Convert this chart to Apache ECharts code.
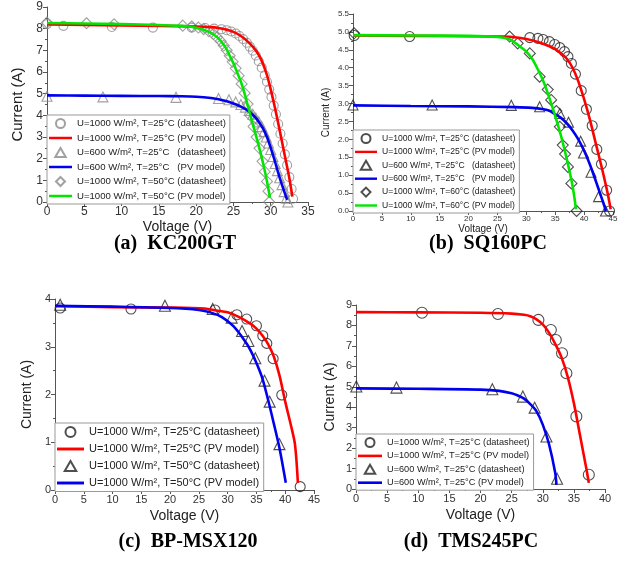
<!DOCTYPE html>
<html><head><meta charset="utf-8">
<script src="https://cdn.jsdelivr.net/npm/echarts@6/dist/echarts.min.js"></script>
<style>html,body{margin:0;padding:0;background:#fff}#c{width:643px;height:562px}</style>
</head><body><div id="c"></div>
<script>
// ---------- (a) KC200GT ----------
const kcDs1000T25 = [[0,8.21],[2.2,8.13],[8.7,8.08],[14.2,8.05],[19.4,8.05],[21.2,8.03],[22.4,8.0],[23.4,7.97],[24.1,7.93],[24.7,7.87],[25.3,7.78],[25.8,7.66],[26.3,7.52],[26.8,7.35],[27.2,7.17],[27.6,6.98],[28.0,6.76],[28.4,6.5],[28.8,6.2],[29.2,5.85],[29.5,5.55],[29.8,5.2],[30.1,4.85],[30.4,4.45],[30.7,4.05],[31.0,3.6],[31.3,3.15],[31.6,2.7],[31.9,2.2],[32.2,1.7],[32.5,1.15],[32.8,0.6],[33.0,0.15]];
const kcPv1000T25 = [[0,8.19],[5,8.17],[10,8.15],[15,8.13],[20,8.1],[22,8.07],[23,8.03],[24,7.96],[25,7.85],[26,7.66],[27,7.38],[28,7.0],[28.5,6.72],[29,6.35],[29.5,5.85],[30,5.2],[30.5,4.45],[31,3.65],[31.5,2.8],[32,1.95],[32.5,1.1],[32.9,0.25]];
const kcDs600T25 = [[0,4.88],[7.5,4.85],[17.3,4.83],[23.0,4.78],[24.4,4.72],[25.3,4.62],[26.0,4.5],[26.6,4.38],[27.1,4.22],[27.6,4.05],[28.0,3.88],[28.4,3.7],[28.8,3.48],[29.1,3.25],[29.4,3.0],[29.7,2.72],[30.0,2.42],[30.3,2.1],[30.6,1.78],[30.9,1.45],[31.2,1.12],[31.5,0.8],[31.8,0.48],[32.1,0.18],[32.3,0.0]];
const kcPv600T25 = [[0,4.92],[5,4.91],[10,4.9],[15,4.89],[18,4.88],[20,4.86],[22,4.8],[23,4.74],[24,4.66],[25,4.55],[26,4.4],[27,4.2],[27.5,4.05],[28,3.88],[28.5,3.65],[29,3.38],[29.5,3.0],[30,2.5],[30.5,1.95],[31,1.35],[31.5,0.8],[32,0.3],[32.2,0.1]];
const kcDs1000T50 = [[0,8.28],[5.3,8.25],[9,8.2],[18.2,8.14],[19.4,8.1],[20.3,8.05],[21.0,7.98],[21.7,7.88],[22.3,7.75],[22.8,7.6],[23.3,7.42],[23.7,7.22],[24.1,7.0],[24.5,6.75],[24.9,6.47],[25.3,6.17],[25.7,5.83],[26.1,5.45],[26.5,5.02],[26.9,4.52],[27.3,3.98],[27.7,3.48],[28.1,3.0],[28.5,2.48],[28.9,1.88],[29.2,1.4],[29.5,0.95],[29.7,0.5],[29.8,0.0]];
const kcPv1000T50 = [[0,8.26],[5,8.24],[10,8.21],[15,8.17],[18,8.13],[19,8.1],[20,8.04],[21,7.95],[22,7.8],[23,7.55],[24,7.1],[24.5,6.75],[25,6.4],[25.5,5.98],[26,5.55],[26.5,5.0],[27,4.35],[27.5,3.7],[28,3.1],[28.5,2.45],[29,1.75],[29.5,0.95],[29.9,0.2]];
const kcLegend = ['U=1000 W/m², T=25°C (datasheet)','U=1000 W/m², T=25°C (PV model)','U=600 W/m², T=25°C   (datasheet)','U=600 W/m², T=25°C   (PV model)','U=1000 W/m², T=50°C (datasheet)','U=1000 W/m², T=50°C (PV model)'];

// ---------- (b) SQ160PC ----------
const sqDs1000T25 = [[0.2,4.9],[9.8,4.87],[30.6,4.84],[32.0,4.82],[32.9,4.79],[34.0,4.73],[34.9,4.65],[35.8,4.56],[36.6,4.45],[37.2,4.31],[37.8,4.12],[38.5,3.82],[39.5,3.36],[40.4,2.84],[41.4,2.38],[42.2,1.72],[43.0,1.31],[43.9,0.58],[44.4,0.0]];
const sqPv1000T25 = [[0,4.9],[10,4.89],[20,4.88],[26,4.87],[28,4.85],[30,4.8],[32,4.72],[34,4.6],[35,4.52],[36,4.4],[37,4.25],[38,4.0],[39,3.62],[40,3.12],[41,2.55],[42,1.9],[43,1.25],[44,0.55],[44.6,0.05]];
const sqDs600T25 = [[0,2.96],[13.7,2.96],[27.4,2.95],[32.3,2.91],[35.8,2.72],[37.3,2.48],[39.4,1.95],[39.9,1.62],[41.2,1.08],[42.5,0.4],[43.7,0.0]];
const sqPv600T25 = [[0,2.95],[10,2.93],[20,2.92],[28,2.9],[31,2.88],[33,2.84],[34,2.8],[35,2.7],[36,2.6],[37,2.45],[38,2.25],[39,2.0],[40,1.68],[41,1.3],[42,0.85],[43,0.38],[43.8,0.0]];
const sqDs1000T60 = [[0.2,4.96],[27.1,4.87],[28.5,4.68],[30.6,4.4],[32.3,3.75],[33.7,3.39],[34.3,3.1],[35.2,2.79],[35.8,2.35],[36.3,1.84],[36.7,1.59],[37.2,1.23],[37.8,0.77],[38.7,0.0]];
const sqPv1000T60 = [[0,4.91],[10,4.9],[20,4.89],[25,4.86],[27,4.8],[28,4.7],[29,4.58],[30,4.45],[31,4.25],[32,3.95],[33,3.6],[34,3.15],[35,2.65],[36,2.1],[37,1.45],[38,0.7],[38.6,0.05]];
const sqLegend = ['U=1000 W/m², T=25°C (datasheet)','U=1000 W/m², T=25°C (PV model)','U=600 W/m², T=25°C   (datasheet)','U=600 W/m², T=25°C   (PV model)','U=1000 W/m², T=60°C (datasheet)','U=1000 W/m², T=60°C (PV model)'];

// ---------- (c) BP-MSX120 ----------
const bpDs1000T25 = [[0.9,3.81],[13.2,3.79],[27.8,3.77],[31.6,3.67],[33.3,3.58],[35.0,3.44],[36.1,3.23],[36.8,3.07],[37.9,2.75],[39.4,1.99],[42.6,0.07]];
const bpPv1000T25 = [[0,3.85],[10,3.83],[20,3.82],[26,3.8],[28,3.76],[30,3.72],[32,3.62],[34,3.48],[35,3.38],[36,3.24],[37,3.06],[38,2.8],[39,2.4],[40,1.85],[41,1.35],[41.7,0.95],[42.2,0.15]];
const bpDs1000T50 = [[0.9,3.88],[19.1,3.86],[27.4,3.79],[30.7,3.61],[32.5,3.33],[33.6,3.12],[34.8,2.76],[36.4,2.29],[37.3,1.85],[39.0,0.96]];
const bpPv1000T50 = [[0,3.86],[10,3.84],[20,3.81],[25,3.77],[27,3.72],[29,3.62],[31,3.43],[33,3.12],[34,2.92],[35,2.66],[36,2.35],[37,1.9],[38,1.4],[39,0.88],[40.1,0.15]];
const bpLegend = ['U=1000 W/m², T=25°C (datasheet)','U=1000 W/m², T=25°C (PV model)','U=1000 W/m², T=50°C (datasheet)','U=1000 W/m², T=50°C (PV model)'];

// ---------- (d) TMS245PC ----------
const tmsDs1000T25 = [[10.6,8.62],[22.8,8.56],[29.3,8.27],[31.3,7.78],[32.1,7.29],[33.1,6.64],[33.8,5.66],[35.4,3.55],[37.4,0.7]];
const tmsPv1000T25 = [[0,8.65],[10,8.64],[20,8.62],[25,8.58],[27,8.52],[28,8.45],[29,8.3],[30,8.05],[31,7.65],[32,7.1],[33,6.45],[34,5.5],[35,4.2],[36,2.6],[37,1.0],[37.4,0.3]];
const tmsDs600T25 = [[0.05,5.01],[6.5,4.96],[21.9,4.88],[26.8,4.52],[28.7,3.98],[30.6,2.57],[32.3,0.5]];
const tmsPv600T25 = [[0,4.92],[10,4.9],[20,4.86],[23,4.8],[25,4.68],[26,4.57],[27,4.42],[28,4.15],[29,3.8],[30,3.15],[31,2.2],[32,0.8],[32.2,0.2]];
const tmsLegend = ['U=1000 W/m², T=25°C (datasheet)','U=1000 W/m², T=25°C (PV model)','U=600 W/m², T=25°C (datasheet)','U=600 W/m², T=25°C (PV model)'];

const panelTitles = ['(a)  KC200GT','(b)  SQ160PC','(c)  BP-MSX120','(d)  TMS245PC'];
const xAxisName = 'Voltage (V)';
const yAxisName = 'Current (A)';

// ---------- build ----------
const RED='#ff0000', BLUE='#0000ee', GREEN='#00e600';
const FONT='Liberation Sans, Arial, sans-serif';
const axisColor='#555';
const ICON = {
  circle:'path://M10,0A10,10,0,1,1,9.99,0Z',
  triangle:'path://M10,0L20,17.3L0,17.3Z',
  diamond:'path://M10,0L20,10L10,20L0,10Z',
  line:'path://M0,0H24V2.6H0Z'
};

function xAx(gi, max, fs, nameFs, nameGap){
  return {type:'value', gridIndex:gi, min:0, max:max, interval:5,
    name:xAxisName, nameLocation:'middle', nameGap:nameGap,
    nameTextStyle:{fontFamily:FONT,fontSize:nameFs,color:'#222'},
    axisLine:{lineStyle:{color:axisColor,width:1}},
    axisTick:{inside:false,length:4,lineStyle:{color:axisColor}},
    minorTick:{show:true,splitNumber:2,length:2,lineStyle:{color:axisColor}},
    splitLine:{show:false},
    axisLabel:{fontFamily:FONT,fontSize:fs,color:'#333',margin:4}};
}
function yAx(gi, max, interval, fs, nameFs, nameGap, fmt){
  return {type:'value', gridIndex:gi, min:0, max:max, interval:interval,
    name:yAxisName, nameLocation:'middle', nameGap:nameGap,
    nameTextStyle:{fontFamily:FONT,fontSize:nameFs,color:'#222'},
    axisLine:{show:true,lineStyle:{color:axisColor,width:1}},
    axisTick:{show:true,inside:false,length:4,lineStyle:{color:axisColor}},
    minorTick:{show:true,splitNumber:2,length:2,lineStyle:{color:axisColor}},
    splitLine:{show:false},
    axisLabel:{fontFamily:FONT,fontSize:fs,color:'#333',margin:4,formatter:fmt}};
}
function ds(name, gi, data, symbol, color, size){
  return {name:name, type:'scatter', xAxisIndex:gi, yAxisIndex:gi, data:data,
    symbol:symbol, symbolSize:size, z:2, legendIcon:ICON[symbol],
    itemStyle:{color:'rgba(255,255,255,0)', borderColor:color, borderWidth:1.1}};
}
function pv(name, gi, data, color){
  return {name:name, type:'line', xAxisIndex:gi, yAxisIndex:gi, data:data,
    symbol:'none', smooth:0.3, z:3, lineStyle:{color:color,width:2.6},
    itemStyle:{color:color,borderWidth:0}};
}
const tag = (s, k) => s + '|' + k;
const GRAY='#8a8a8a', BLK='#222';

const series = [
  ds(tag(kcLegend[0],'a'),0,kcDs1000T25,'circle',GRAY,9),
  pv(tag(kcLegend[1],'a'),0,kcPv1000T25,RED),
  ds(tag(kcLegend[2],'a'),0,kcDs600T25,'triangle',GRAY,10),
  pv(tag(kcLegend[3],'a'),0,kcPv600T25,BLUE),
  ds(tag(kcLegend[4],'a'),0,kcDs1000T50,'diamond',GRAY,11),
  pv(tag(kcLegend[5],'a'),0,kcPv1000T50,GREEN),

  ds(tag(sqLegend[0],'b'),1,sqDs1000T25,'circle',BLK,10),
  pv(tag(sqLegend[1],'b'),1,sqPv1000T25,RED),
  ds(tag(sqLegend[2],'b'),1,sqDs600T25,'triangle',BLK,10),
  pv(tag(sqLegend[3],'b'),1,sqPv600T25,BLUE),
  ds(tag(sqLegend[4],'b'),1,sqDs1000T60,'diamond',BLK,11),
  pv(tag(sqLegend[5],'b'),1,sqPv1000T60,GREEN),

  ds(tag(bpLegend[0],'c'),2,bpDs1000T25,'circle',BLK,10),
  pv(tag(bpLegend[1],'c'),2,bpPv1000T25,RED),
  ds(tag(bpLegend[2],'c'),2,bpDs1000T50,'triangle',BLK,11),
  pv(tag(bpLegend[3],'c'),2,bpPv1000T50,BLUE),

  ds(tag(tmsLegend[0],'d'),3,tmsDs1000T25,'circle',BLK,11),
  pv(tag(tmsLegend[1],'d'),3,tmsPv1000T25,RED),
  ds(tag(tmsLegend[2],'d'),3,tmsDs600T25,'triangle',BLK,11),
  pv(tag(tmsLegend[3],'d'),3,tmsPv600T25,BLUE)
];

const iconOrder4 = ['circle','line','triangle','line'];
const iconOrder6 = ['circle','line','triangle','line','diamond','line'];
function leg(labels, k, left, top, fs, gap, iw, ih){
  const icons = labels.length === 6 ? iconOrder6 : iconOrder4;
  return {orient:'vertical', left:left, top:top, itemGap:gap, itemWidth:iw, itemHeight:ih,
    padding:[3,4,3,2], borderColor:'#999', borderWidth:1, backgroundColor:'#fff',
    selectedMode:false,
    data:labels.map((s,i)=>({name:tag(s,k), icon:ICON[icons[i]]})),
    formatter:n=>n.split('|')[0],
    textStyle:{fontFamily:FONT,fontSize:fs,color:'#222'}};
}

const titleStyle = {fontFamily:'Liberation Serif, Times New Roman, serif',fontSize:20,fontWeight:'bold',color:'#000'};
const option = {
  animation:false,
  backgroundColor:'#fff',
  title:[
    {text:panelTitles[0],left:170,top:229,textAlign:'center',textStyle:titleStyle},
    {text:panelTitles[1],left:483,top:229,textAlign:'center',textStyle:titleStyle},
    {text:panelTitles[2],left:183,top:527,textAlign:'center',textStyle:titleStyle},
    {text:panelTitles[3],left:466,top:527,textAlign:'center',textStyle:titleStyle}
  ],
  grid:[
    {left:47,top:7,width:261,height:195},
    {left:353,top:14,width:260,height:197},
    {left:55,top:299,width:259,height:191},
    {left:356,top:305,width:249,height:184}
  ],
  xAxis:[xAx(0,35,12,14,18), xAx(1,45,8,10,11), xAx(2,45,11,14,19), xAx(3,40,11,14,19)],
  yAxis:[yAx(0,9,1,12,15,22), yAx(1,5.5,0.5,8,10,22,v=>v.toFixed(1)), yAx(2,4,1,11,14,21), yAx(3,9,1,11,14,19)],
  legend:[
    leg(kcLegend,'a',47,115,9.6,4,23,9),
    leg(sqLegend,'b',353,130,8.6,3.4,22,9),
    leg(bpLegend,'c',55,423,11,5.5,27,10),
    leg(tmsLegend,'d',356,434,9.2,3.4,24,9)
  ],
  series:series
};
echarts.init(document.getElementById('c'),null,{renderer:'canvas'}).setOption(option);
</script></body></html>
